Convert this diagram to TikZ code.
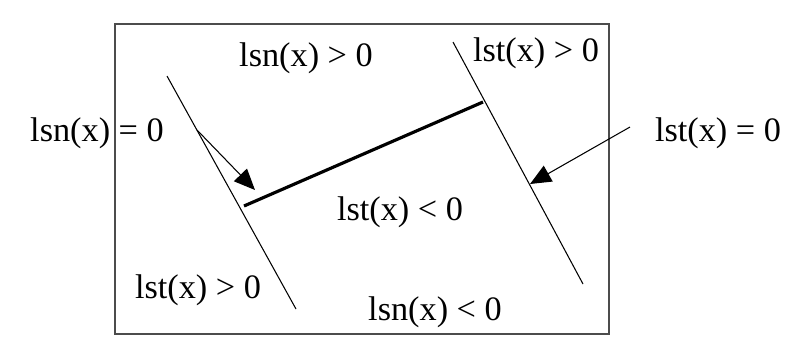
\documentclass[tikz,border=0pt]{standalone}
\usepackage{fontspec}
\setmainfont{Liberation Serif}
\usepackage{tikz}
\usetikzlibrary{arrows.meta,positioning}

\begin{document}
\begin{tikzpicture}[
    x=0.02cm, y=-0.02cm,
    lbl/.style={inner sep=0pt, font=\fontsize{19.5}{22}\selectfont},
    front/.style={draw, line width=0.6pt},
    crack/.style={line width=1.8pt},
    arrow/.style={-{Triangle[length=4.2mm,width=3.6mm]}, line width=0.6pt}
]
\useasboundingbox (0,0) rectangle (795,360);
\draw[line width=1pt, black!70] (115,24) rectangle (609,334);
% level set lines
\coordinate (ntop) at (167,76);
\coordinate (nbot) at (296,309);
\coordinate (ttop) at (453,42);
\coordinate (tbot) at (583,284);
\draw[front] (ntop) -- (nbot);
\draw[front] (ttop) -- (tbot);
\coordinate (cleft) at (244,206);
\coordinate (cright) at (483,102);
\draw[crack] (cleft) -- (cright);
% labels
\node[lbl] (lsnpos) at (306,58) {lsn(x) > 0};
\node[lbl] (lstposr) at (536,53) {lst(x) > 0};
\node[lbl] (lsnzero) at (97,133) {lsn(x) = 0};
\node[lbl] (lstzero) at (718,133) {lst(x) = 0};
\node[lbl] (lstneg) at (400,212) {lst(x) < 0};
\node[lbl] (lstposl) at (198,290) {lst(x) > 0};
\node[lbl] (lsnneg) at (435,312) {lsn(x) < 0};
% pointers
\coordinate (nfoot) at (197,130);
\coordinate (ntip) at (255,190);
\coordinate (tfrom) at (630,127);
\coordinate (ttip) at (530,184);
\draw[arrow] (nfoot) -- (ntip);
\draw[arrow] (tfrom) -- (ttip);
\end{tikzpicture}
\end{document}
